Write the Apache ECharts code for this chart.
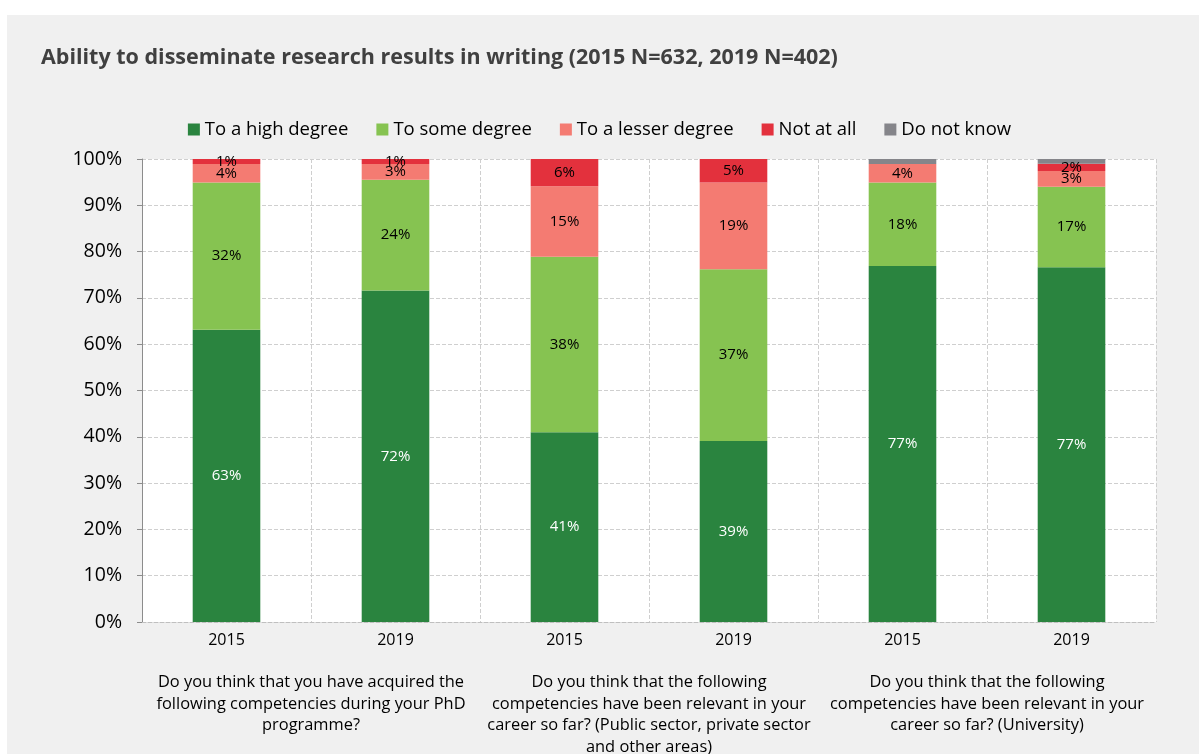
<!DOCTYPE html>
<html>
<head>
<meta charset="utf-8">
<script src="https://cdn.jsdelivr.net/npm/echarts@6/dist/echarts.min.js"></script>
<style>
html,body{margin:0;padding:0;background:#fff;}
#panel{position:absolute;left:7px;top:15px;width:1192px;height:739px;background:#f0f0f0;}
#chart{position:absolute;left:0;top:0;width:1199px;height:754px;}
</style>
</head>
<body>
<div id="panel"></div>
<div id="chart"></div>
<script>
var years = ['2015', '2019', '2015', '2019', '2015', '2019'];
var groups = [
  'Do you think that you have acquired the\nfollowing competencies during your PhD\nprogramme?',
  'Do you think that the following\ncompetencies have been relevant in your\ncareer so far? (Public sector, private sector\nand other areas)',
  'Do you think that the following\ncompetencies have been relevant in your\ncareer so far? (University)'
];
var seriesNames = ['To a high degree', 'To some degree', 'To a lesser degree', 'Not at all', 'Do not know'];
var highDegree   = [63.1, 71.6, 41.0, 39.1, 76.9, 76.6];
var someDegree   = [31.8, 23.9, 37.9, 37.1, 18.0, 17.4];
var lesserDegree = [4.0, 3.4, 15.2, 18.7, 4.0, 3.4];
var notAtAll     = [1.1, 1.1, 5.9, 5.1, 0, 1.6];
var doNotKnow    = [0, 0, 0, 0, 1.1, 1.0];
var yTicks = [0, 10, 20, 30, 40, 50, 60, 70, 80, 90, 100];

var colors = ['#2a843f', '#86c351', '#f47b72', '#e3313d', '#85858a'];
var labelColors = ['#ffffff', '#000000', '#000000', '#000000', '#000000'];
var dataSets = [highDegree, someDegree, lesserDegree, notAtAll, doNotKnow];
var FONT = 'Open Sans';

var chart = echarts.init(document.getElementById('chart'));
var series = seriesNames.map(function (name, i) {
  return {
    name: name,
    type: 'bar',
    stack: 'total',
    barWidth: '40%',
    xAxisIndex: 0,
    itemStyle: { color: colors[i] },
    label: {
      show: i < 4,
      position: 'inside',
      color: labelColors[i],
      fontFamily: FONT,
      fontSize: 15,
      formatter: function (p) { return p.value > 0 ? Math.round(p.value) + '%' : ''; }
    },
    emphasis: { disabled: true },
    data: dataSets[i]
  };
});

chart.setOption({
  animation: false,
  backgroundColor: 'transparent',
  title: {
    text: 'Ability to disseminate research results in writing (2015 N=632, 2019 N=402)',
    left: 36, top: 42,
    textStyle: { fontFamily: FONT, fontSize: 21.5, fontWeight: 'bold', color: '#404040' }
  },
  legend: {
    top: 115, left: 'center',
    itemWidth: 12, itemHeight: 12, itemGap: 28,
    icon: 'rect',
    textStyle: { fontFamily: FONT, fontSize: 18.5, color: '#000' },
    data: seriesNames
  },
  grid: { left: 142, right: 43, top: 159, bottom: 132, backgroundColor: '#fff', show: true, borderWidth: 0, outerBoundsMode: 'none', containLabel: false },
  xAxis: [{
    type: 'category',
    data: years,
    position: 'bottom',
    axisLine: { show: true, lineStyle: { color: '#bfbfbf', type: 'dashed' } },
    axisTick: { show: false },
    splitLine: { show: true, lineStyle: { color: '#cfcfcf', type: 'dashed' } },
    axisLabel: { fontFamily: FONT, fontSize: 16, color: '#000', margin: 10 }
  }, {
    type: 'category',
    data: groups,
    position: 'bottom',
    axisLine: { show: false },
    axisTick: { show: false },
    splitLine: { show: false },
    axisLabel: { fontFamily: FONT, fontSize: 16.4, color: '#000', margin: 50, lineHeight: 21.5, interval: 0, align: 'center' }
  }],
  yAxis: {
    type: 'value',
    min: 0, max: 100, interval: 10,
    axisLine: { show: true, lineStyle: { color: '#8c8c8c' } },
    axisTick: { show: true, length: 5, lineStyle: { color: '#8c8c8c' } },
    splitLine: { show: true, lineStyle: { color: '#cfcfcf', type: 'dashed' } },
    axisLabel: {
      fontFamily: FONT, fontSize: 19.5, color: '#000', margin: 20,
      formatter: function (v) { return yTicks.indexOf(v) >= 0 ? v + '%' : ''; }
    }
  },
  series: series
});
</script>
</body>
</html>
